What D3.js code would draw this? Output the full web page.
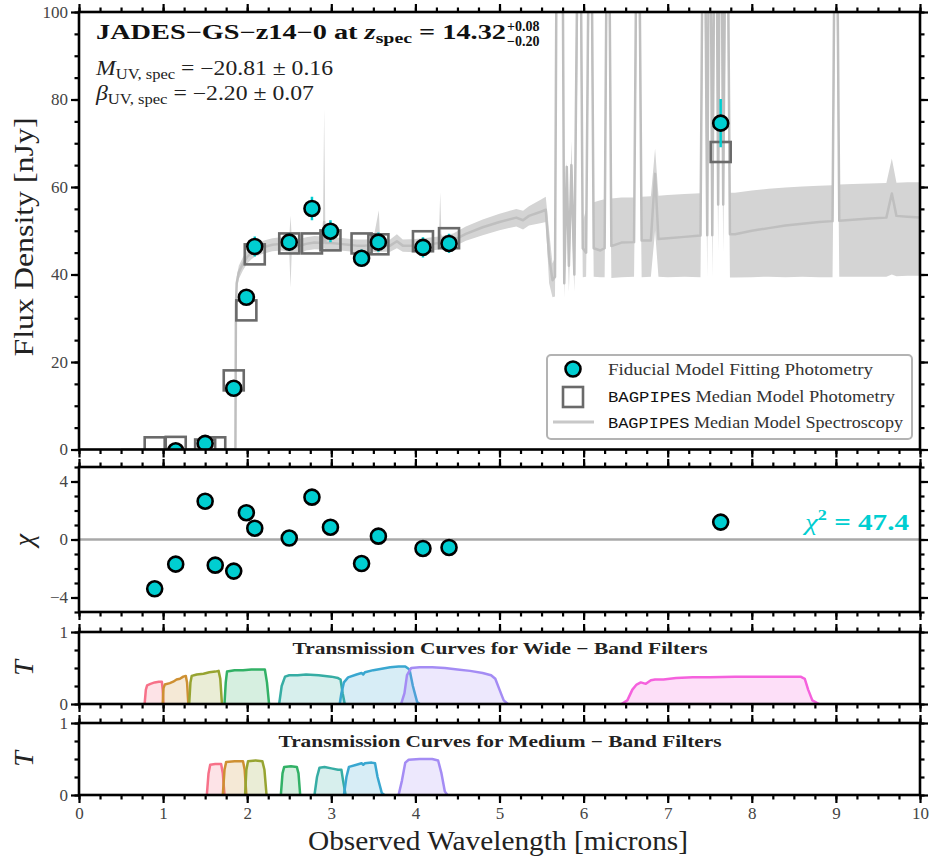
<!DOCTYPE html>
<html><head><meta charset="utf-8">
<script src="https://cdn.jsdelivr.net/npm/d3@7"></script>
<style>
body{margin:0;background:#fff}
svg{display:block}
text{font-family:"Liberation Serif","DejaVu Serif",serif}
</style>
</head><body>
<svg id="c" width="929" height="856"></svg>
<script>
// ---------------- DATA ----------------
const photWave  = [0.90, 1.15, 1.50, 1.62, 1.84, 1.99, 2.09, 2.50, 2.77, 2.99, 3.36, 3.56, 4.09, 4.40, 7.63];
const photFlux  = [-3.6, -0.3, 1.4, -2.6, 14.0, 34.8, 46.4, 47.4, 55.1, 49.9, 43.7, 47.4, 46.2, 47.1, 74.6];
const photErr   = [1.2, 0.5, 0.5, 1.7, 0.8, 1.6, 2.3, 2.0, 2.7, 2.5, 2.0, 2.2, 2.3, 2.2, 5.5];
const modelFlux = [0.5, 0.6, 0.0, 0.5, 15.8, 31.8, 44.6, 47.1, 47.1, 47.8, 47.1, 46.9, 47.6, 48.3, 68.0];
const chiValues = [-3.4, -1.7, 2.64, -1.77, -2.18, 1.85, 0.78, 0.1, 2.92, 0.85, -1.66, 0.23, -0.62, -0.55, 1.2];

const specWave = [0.50,1.860,1.866,1.875,1.90,1.95,2.00,2.05,2.10,2.20,
  2.30,2.40,2.50,2.515,2.53,2.60,2.70,2.80,2.90,2.915,
  2.93,3.00,3.10,3.20,3.30,3.40,3.50,3.565,3.58,3.70,
  3.78,3.85,4.00,4.10,4.20,4.28,4.295,4.31,4.45,4.60,
  4.80,5.00,5.20,5.28,5.35,5.50,5.55,5.59,5.63,5.66,
  5.69,5.74,5.77,5.80,5.825,5.855,5.89,5.95,5.99,6.03,
  6.08,6.12,6.20,6.25,6.29,6.33,6.45,6.60,6.645,6.69,
  6.80,6.85,6.89,7.00,7.20,7.39,7.43,7.47,7.50,7.53,
  7.57,7.60,7.63,7.66,7.70,7.74,7.80,8.00,8.20,8.40,
  8.60,8.80,8.96,9.00,9.04,9.20,9.40,9.60,9.665,9.72,
  9.85,10.0];
const specMed = [0,0,33,38,40.5,42.5,44,45,45.7,46.3,
  46.8,47,46.8,48.5,46.8,46.4,47,47.3,47.2,52,
  47.2,47.2,47,46.8,46.6,46.6,46.7,48,46.7,46.6,
  47.6,46.6,46.6,46.8,47,47.2,49,47.3,47.8,49.3,
  50.8,52,53,52.4,53.4,54.4,54.8,44,38.7,39.5,
  160,160,38,64.6,42,65,40,160,46,45,
  160,46,45.5,46,160,46.5,47.3,47.4,160,47.8,
  47.8,63,48.1,48.3,48.6,48.9,160,49,160,49,
  160,56,160,56,160,49.2,49.2,50,50.6,51.2,
  51.6,52,52.2,160,52.3,52.5,52.8,53,58.5,53.4,
  53.2,53];
const specLo = [0,0,31,36.5,39,41,42.5,43.5,44.2,44.8,
  45.3,45.5,45.2,37,45.2,44.5,45.5,45.8,45.7,46,
  45.7,45.7,45.5,45.3,45.1,45.1,45.2,45,45.2,45.2,
  46,45.2,45.1,45.3,45.5,45.7,46,45.8,46.3,47.7,
  49,50.1,51,50.3,51.2,51.8,52,38,34.8,35,
  120,120,34.5,55,36,55,36,120,39.4,39.5,
  120,39.5,39.4,39.4,120,39.2,39.4,39.5,120,39.4,
  39.5,50,39.5,39.4,39.5,39.4,120,39,120,39.3,
  120,45,120,45,120,39.3,39.3,39.4,39.5,39.4,
  39.5,39.4,39.4,120,39.5,39.5,39.5,39.5,40,39.6,
  39.7,39.7];
const specHi = [0,0,35,39.5,42,44,45.5,46.5,47.2,47.8,
  48.3,48.5,48.4,53.5,48.4,48,48.5,48.8,48.7,78,
  48.7,48.6,48.4,48.2,48,48,48.1,54.7,48.1,48,
  49.2,48,48.1,48.3,48.5,48.7,58.8,48.8,49.4,51,
  52.6,53.9,55,54.6,55.6,57.2,57.8,50,42.5,44,
  200,200,44,66,46,70.5,45,200,52,55,
  200,56.5,57,57.2,200,57.4,57.6,57.6,200,57.8,
  57.9,68.8,58,58.2,58.4,58.6,200,58.6,200,58.6,
  200,160,200,160,200,58.7,58.7,59.2,59.6,59.9,
  60.1,60.3,60.4,200,60.6,60.7,60.8,60.9,66.5,61,
  61.1,61.1];

const wideNames = ["F090W","F115W","F150W","F200W","F277W","F356W","F444W","F770W"];
const wideWave = [
  [0.78,0.795,0.81,0.85,0.90,0.95,0.985,0.995,1.005],
  [0.995,1.005,1.02,1.08,1.12,1.16,1.20,1.24,1.27,1.285,1.30],
  [1.31,1.325,1.34,1.40,1.48,1.55,1.62,1.66,1.68,1.70],
  [1.73,1.745,1.76,1.85,1.95,2.05,2.15,2.21,2.235,2.26],
  [2.38,2.41,2.45,2.50,2.60,2.70,2.85,3.00,3.08,3.11,3.135,3.16],
  [3.10,3.12,3.15,3.20,3.30,3.36,3.38,3.40,3.50,3.60,3.70,3.80,3.88,3.93,3.97,4.02,4.05],
  [3.83,3.87,3.90,3.95,4.05,4.20,4.35,4.50,4.65,4.80,4.90,4.95,5.00,5.05,5.10],
  [6.45,6.52,6.58,6.63,6.68,6.74,6.80,6.85,6.95,7.10,7.30,7.50,7.80,8.10,8.40,8.58,8.63,8.67,8.72,8.80]
];
const wideTrans = [
  [0,0.2,0.26,0.28,0.30,0.31,0.31,0.2,0],
  [0,0.22,0.27,0.29,0.31,0.34,0.35,0.38,0.39,0.3,0],
  [0,0.3,0.39,0.41,0.42,0.44,0.45,0.46,0.35,0],
  [0,0.3,0.45,0.47,0.47,0.48,0.48,0.48,0.3,0],
  [0,0.25,0.38,0.40,0.40,0.41,0.40,0.38,0.36,0.34,0.15,0],
  [0,0.15,0.3,0.37,0.41,0.43,0.41,0.44,0.47,0.49,0.51,0.52,0.52,0.48,0.25,0.03,0],
  [0,0.15,0.4,0.5,0.51,0.51,0.50,0.48,0.46,0.43,0.40,0.35,0.2,0.05,0],
  [0,0.05,0.2,0.27,0.30,0.28,0.33,0.34,0.34,0.36,0.37,0.37,0.38,0.38,0.38,0.38,0.35,0.2,0.05,0]
];
const mediumNames = ["F162M","F182M","F210M","F250M","F300M","F335M","F410M"];
const mediumWave = [
  [1.52,1.54,1.56,1.62,1.69,1.71,1.73],
  [1.71,1.73,1.75,1.85,1.95,1.97,1.99],
  [1.975,1.99,2.01,2.10,2.18,2.205,2.23],
  [2.40,2.42,2.44,2.52,2.59,2.61,2.63],
  [2.80,2.83,2.86,2.92,3.00,3.08,3.12,3.14,3.17],
  [3.15,3.18,3.21,3.30,3.36,3.38,3.40,3.48,3.52,3.55,3.60,3.63],
  [3.80,3.84,3.88,3.92,4.05,4.20,4.27,4.31,4.35,4.38]
];
const mediumTrans = [
  [0,0.3,0.42,0.43,0.43,0.3,0],
  [0,0.35,0.46,0.47,0.47,0.35,0],
  [0,0.35,0.47,0.48,0.47,0.35,0],
  [0,0.3,0.39,0.40,0.39,0.3,0],
  [0,0.25,0.38,0.39,0.37,0.35,0.35,0.2,0],
  [0,0.25,0.39,0.42,0.44,0.42,0.44,0.45,0.44,0.25,0.03,0],
  [0,0.2,0.45,0.49,0.50,0.50,0.48,0.3,0.05,0]
];
const filterColors = ["#f77189","#ce9032","#97a431","#32b166","#36ada4","#39a7d0","#a48cf4","#f561dd"];

const xMajorTicks = [0,1,2,3,4,5,6,7,8,9,10];
const fluxTicks = [0,20,40,60,80,100];
const chiTicks = [-4,0,4];
const transTicks = [0,1];

// ---------------- LAYOUT ----------------
const CYAN = "#00CED1";
const svg = d3.select("#c");
const x = d3.scaleLinear().domain([0,10]).range([79,920]);
const intFmt = d => (d<0?"\u2212":"") + Math.abs(d);
const panels = {
  main:{top:12,bottom:449.5,y:d3.scaleLinear().domain([0,100]).range([449.5,12]),major:fluxTicks,minor:d3.range(0,101,5)},
  chi:{top:467,bottom:612,y:d3.scaleLinear().domain([-5,5]).range([612,467]),major:chiTicks,minor:d3.range(-5,6,1)},
  t1:{top:632,bottom:704,y:d3.scaleLinear().domain([0,1]).range([704,632]),major:transTicks,minor:[0,0.25,0.5,0.75,1]},
  t2:{top:723,bottom:795,y:d3.scaleLinear().domain([0,1]).range([795,723]),major:transTicks,minor:[0,0.25,0.5,0.75,1]}
};
const defs = svg.append("defs");
Object.entries(panels).forEach(([k,p])=>{
  defs.append("clipPath").attr("id","clip-"+k).append("rect")
    .attr("x",79).attr("y",p.top).attr("width",841).attr("height",p.bottom-p.top);
});

function drawFrame(p, showX){
  const g = svg.append("g");
  const xMinor = d3.range(0,10.001,0.25);
  const add = (axis, tx, ty)=> g.append("g").attr("transform",`translate(${tx},${ty})`).call(axis);
  add(d3.axisBottom(x).tickValues(xMinor).tickSize(4.5).tickFormat(""),0,p.bottom);
  add(d3.axisBottom(x).tickValues(xMajorTicks).tickSize(8).tickPadding(4).tickFormat(showX?intFmt:""),0,p.bottom);
  add(d3.axisTop(x).tickValues(xMinor).tickSize(4.5).tickFormat(""),0,p.top);
  add(d3.axisTop(x).tickValues(xMajorTicks).tickSize(8).tickFormat(""),0,p.top);
  add(d3.axisLeft(p.y).tickValues(p.minor).tickSize(4.5).tickFormat(""),79,0);
  add(d3.axisLeft(p.y).tickValues(p.major).tickSize(8).tickPadding(3).tickFormat(intFmt),79,0);
  add(d3.axisRight(p.y).tickValues(p.minor).tickSize(4.5).tickFormat(""),920,0);
  add(d3.axisRight(p.y).tickValues(p.major).tickSize(8).tickFormat(""),920,0);
  g.selectAll(".domain").remove();
  g.selectAll(".tick line").attr("stroke","#000").attr("stroke-width",2.2);
  g.selectAll(".tick text").attr("font-size",17).attr("fill","#444")
    .attr("font-family","Liberation Serif, serif");
  g.append("rect").attr("x",79).attr("y",p.top).attr("width",841).attr("height",p.bottom-p.top)
    .attr("fill","none").attr("stroke","#000").attr("stroke-width",2.6);
}

// ---------------- MAIN PANEL ----------------
const pm = panels.main;
const gm = svg.append("g").attr("clip-path","url(#clip-main)");
const spec = specWave.map((w,i)=>({w,m:specMed[i],lo:specLo[i],hi:specHi[i]}));
gm.append("path").datum(spec)
  .attr("d",d3.area().x(d=>x(d.w)).y0(d=>pm.y(d.lo)).y1(d=>pm.y(d.hi)))
  .attr("fill","#d4d4d4");
gm.append("path").datum(spec)
  .attr("d",d3.line().x(d=>x(d.w)).y(d=>pm.y(d.m)))
  .attr("fill","none").attr("stroke","#bfbfbf").attr("stroke-width",2.5).attr("stroke-linejoin","round");

const phot = photWave.map((w,i)=>({w,f:photFlux[i],e:photErr[i],m:modelFlux[i],c:chiValues[i]}));
gm.selectAll("rect.model").data(phot).join("rect").attr("class","model")
  .attr("x",d=>x(d.w)-10).attr("y",d=>pm.y(d.m)-10).attr("width",20).attr("height",20)
  .attr("fill","none").attr("stroke","#6a6a6a").attr("stroke-width",2.6);
gm.selectAll("line.err").data(phot).join("line").attr("class","err")
  .attr("x1",d=>x(d.w)).attr("x2",d=>x(d.w))
  .attr("y1",d=>pm.y(d.f-d.e)).attr("y2",d=>pm.y(d.f+d.e))
  .attr("stroke",CYAN).attr("stroke-width",2.5);
gm.selectAll("circle.obs").data(phot).join("circle").attr("class","obs")
  .attr("cx",d=>x(d.w)).attr("cy",d=>pm.y(d.f)).attr("r",7.5)
  .attr("fill",CYAN).attr("stroke","#000").attr("stroke-width",2.6);

drawFrame(pm,false);

// texts
const title = svg.append("text").attr("x",96).attr("y",39).attr("font-size",20).attr("font-weight","bold")
  .attr("fill","#111").attr("textLength",410).attr("lengthAdjust","spacingAndGlyphs");
title.append("tspan").text("JADES\u2212GS\u2212z14\u22120 at ");
title.append("tspan").attr("font-style","italic").text("z");
title.append("tspan").attr("font-size",14).attr("dy",4).text("spec");
title.append("tspan").attr("dy",-4).text(" = 14.32");
svg.append("text").attr("x",507).attr("y",31).attr("font-size",14).attr("font-weight","bold").attr("fill","#111").text("+0.08");
svg.append("text").attr("x",507).attr("y",46).attr("font-size",14).attr("font-weight","bold").attr("fill","#111").text("\u22120.20");

const mline = svg.append("text").attr("x",96).attr("y",75).attr("font-size",20).attr("fill","#222")
  .attr("textLength",237).attr("lengthAdjust","spacingAndGlyphs");
mline.append("tspan").attr("font-style","italic").text("M");
mline.append("tspan").attr("font-size",14).attr("dy",4).text("UV, spec");
mline.append("tspan").attr("dy",-4).text(" = \u221220.81 \u00b1 0.16");
const bline = svg.append("text").attr("x",96).attr("y",100).attr("font-size",20).attr("fill","#222")
  .attr("textLength",218).attr("lengthAdjust","spacingAndGlyphs");
bline.append("tspan").attr("font-style","italic").text("\u03b2");
bline.append("tspan").attr("font-size",14).attr("dy",4).text("UV, spec");
bline.append("tspan").attr("dy",-4).text(" = \u22122.20 \u00b1 0.07");

// legend
const lg = svg.append("g");
lg.append("rect").attr("x",547).attr("y",355).attr("width",365).attr("height",84).attr("rx",4)
  .attr("fill","#fff").attr("fill-opacity",0.85).attr("stroke","#b3b3b3").attr("stroke-width",2);
lg.append("circle").attr("cx",573).attr("cy",369).attr("r",7.5).attr("fill",CYAN).attr("stroke","#000").attr("stroke-width",2.6);
lg.append("rect").attr("x",563).attr("y",387).attr("width",20).attr("height",20).attr("fill","none").attr("stroke","#6a6a6a").attr("stroke-width",2.6);
lg.append("line").attr("x1",553).attr("x2",594).attr("y1",422).attr("y2",422).attr("stroke","#c8c8c8").attr("stroke-width",3);
const legTexts = [
  {y:375,w:265,parts:[["","Fiducial Model Fitting Photometry"]]},
  {y:402,w:287,parts:[["mono","BAGPIPES"],[""," Median Model Photometry"]]},
  {y:428,w:295,parts:[["mono","BAGPIPES"],[""," Median Model Spectroscopy"]]}
];
legTexts.forEach(t=>{
  const el = lg.append("text").attr("x",608).attr("y",t.y).attr("font-size",16).attr("fill","#333")
    .attr("textLength",t.w).attr("lengthAdjust","spacingAndGlyphs");
  t.parts.forEach(([k,s])=>{
    const ts = el.append("tspan").text(s);
    if(k==="mono") ts.attr("font-family","Liberation Mono, monospace").attr("font-size",15).attr("fill","#111");
  });
});

// y label
svg.append("text").attr("transform","translate(33,237) rotate(-90)").attr("text-anchor","middle")
  .attr("font-size",27).attr("fill","#222").attr("textLength",239).attr("lengthAdjust","spacingAndGlyphs")
  .text("Flux Density [nJy]");

// ---------------- CHI PANEL ----------------
const pc = panels.chi;
const gc = svg.append("g").attr("clip-path","url(#clip-chi)");
gc.append("line").attr("x1",79).attr("x2",920).attr("y1",pc.y(0)).attr("y2",pc.y(0))
  .attr("stroke","#a8a8a8").attr("stroke-width",2.5);
gc.selectAll("circle").data(phot).join("circle")
  .attr("cx",d=>x(d.w)).attr("cy",d=>pc.y(d.c)).attr("r",7.5)
  .attr("fill",CYAN).attr("stroke","#000").attr("stroke-width",2.6);
drawFrame(pc,false);
const chiT = svg.append("text").attr("x",909).attr("y",530).attr("text-anchor","end")
  .attr("font-size",24).attr("font-weight","bold").attr("fill",CYAN)
  .attr("textLength",104).attr("lengthAdjust","spacingAndGlyphs");
chiT.append("tspan").attr("font-style","italic").attr("font-weight","normal").text("\u03c7");
chiT.append("tspan").attr("font-size",15).attr("dy",-10).text("2");
chiT.append("tspan").attr("dy",10).text(" = 47.4");
svg.append("text").attr("transform","translate(33,540) rotate(-90)").attr("text-anchor","middle")
  .attr("font-size",28).attr("font-style","italic").attr("fill","#222").text("\u03c7");

// ---------------- TRANSMISSION PANELS ----------------
function drawFilters(p, key, waves, trans, label, labelW, labelY){
  const g = svg.append("g").attr("clip-path",`url(#clip-${key})`);
  waves.forEach((ws,i)=>{
    const pts = ws.map((w,j)=>[w,trans[i][j]]);
    const col = filterColors[i];
    g.append("path").datum(pts).attr("d",d3.area().x(d=>x(d[0])).y0(p.y(0)).y1(d=>p.y(d[1])))
      .attr("fill",col).attr("fill-opacity",0.2);
    g.append("path").datum(pts).attr("d",d3.line().x(d=>x(d[0])).y(d=>p.y(d[1])))
      .attr("fill","none").attr("stroke",col).attr("stroke-width",2.5).attr("stroke-linejoin","round");
  });
  svg.append("text").attr("x",500).attr("y",labelY).attr("text-anchor","middle")
    .attr("font-size",16).attr("font-weight","bold").attr("fill","#222")
    .attr("textLength",labelW).attr("lengthAdjust","spacingAndGlyphs").text(label);
  svg.append("text").attr("transform",`translate(33,${(p.top+p.bottom)/2}) rotate(-90)`).attr("text-anchor","middle")
    .attr("font-size",28).attr("font-style","italic").attr("fill","#222").text("T");
}
drawFilters(panels.t1,"t1",wideWave,wideTrans,"Transmission Curves for Wide \u2212 Band Filters",415,654);
drawFrame(panels.t1,false);
drawFilters(panels.t2,"t2",mediumWave,mediumTrans,"Transmission Curves for Medium \u2212 Band Filters",443,747);
drawFrame(panels.t2,true);

svg.append("text").attr("x",498).attr("y",850).attr("text-anchor","middle")
  .attr("font-size",28).attr("fill","#222").attr("textLength",380).attr("lengthAdjust","spacingAndGlyphs")
  .text("Observed Wavelength [microns]");
</script>
</body></html>
